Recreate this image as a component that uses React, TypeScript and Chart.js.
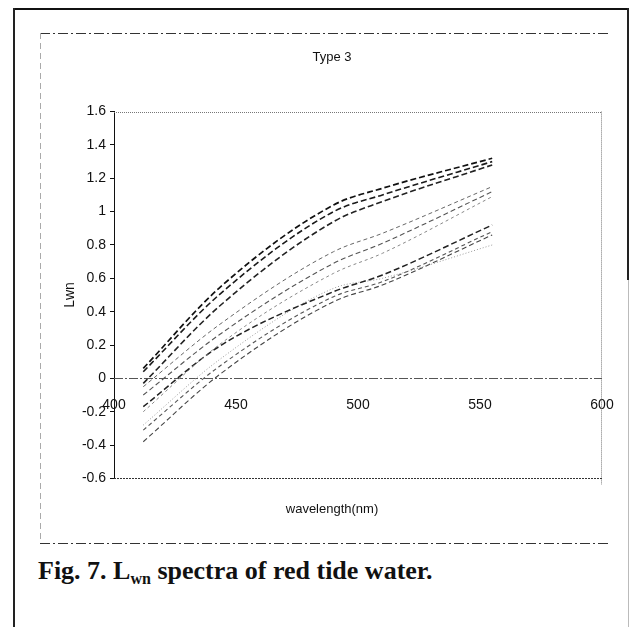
import React, { useEffect, useRef } from 'react';
import { Chart, registerables } from 'chart.js';

Chart.register(...registerables);

// wavelengths (nm) of the measured bands
const wavelengths = [412, 443, 490, 510, 555];

// axis tick values
const xTicks = [400, 450, 500, 550, 600];
const yTicks = [-0.6, -0.4, -0.2, 0, 0.2, 0.4, 0.6, 0.8, 1, 1.2, 1.4, 1.6];

// Lwn spectra (one array per station)
const st1 = [0.06, 0.54, 1.04, 1.14, 1.32];
const st2 = [0.04, 0.5, 1.0, 1.1, 1.3];
const st3 = [-0.03, 0.43, 0.94, 1.06, 1.28];
const st4 = [-0.05, 0.32, 0.76, 0.87, 1.15];
const st5 = [-0.1, 0.26, 0.69, 0.81, 1.12];
const st6 = [-0.2, 0.2, 0.63, 0.75, 1.09];
const st7 = [-0.17, 0.19, 0.52, 0.62, 0.92];
const st8 = [-0.28, 0.11, 0.54, 0.6, 0.8];
const st9 = [-0.31, 0.07, 0.49, 0.58, 0.88];
const st10 = [-0.38, 0.02, 0.46, 0.56, 0.86];

const seriesList = [st1, st2, st3, st4, st5, st6, st7, st8, st9, st10];

const lineStyles = [
  { color: '#111', width: 1.7, dash: [6, 3] },
  { color: '#1a1a1a', width: 1.6, dash: [6, 3] },
  { color: '#222', width: 1.6, dash: [6, 3] },
  { color: '#666', width: 1.0, dash: [4, 3] },
  { color: '#555', width: 1.1, dash: [5, 3] },
  { color: '#888', width: 1.0, dash: [3, 3] },
  { color: '#222', width: 1.5, dash: [6, 3] },
  { color: '#999', width: 1.0, dash: [1, 2] },
  { color: '#555', width: 1.1, dash: [4, 3] },
  { color: '#444', width: 1.1, dash: [5, 3] },
];

const FONT = "'Liberation Sans', Arial, Helvetica, sans-serif";

const framePlugin = {
  id: 'plotFrame',
  beforeDatasetsDraw(chart: any) {
    const { ctx, chartArea, scales } = chart;
    const { left, right, top, bottom } = chartArea;
    ctx.save();
    ctx.lineWidth = 1;
    ctx.setLineDash([1, 1]);
    ctx.strokeStyle = '#777';
    ctx.beginPath();
    ctx.moveTo(left, Math.round(top) + 0.5);
    ctx.lineTo(right, Math.round(top) + 0.5);
    ctx.moveTo(Math.round(right) - 0.5, top);
    ctx.lineTo(Math.round(right) - 0.5, bottom + 6);
    ctx.stroke();
    ctx.strokeStyle = '#333';
    ctx.setLineDash([2, 1]);
    ctx.beginPath();
    ctx.moveTo(left, Math.round(bottom) + 0.5);
    ctx.lineTo(right, Math.round(bottom) + 0.5);
    ctx.stroke();
    // zero line (x axis) drawn dash-dot
    const y0 = Math.round(scales.y.getPixelForValue(0)) + 0.5;
    ctx.strokeStyle = '#555';
    ctx.setLineDash([9, 2, 2, 2]);
    ctx.beginPath();
    ctx.moveTo(left, y0);
    ctx.lineTo(right, y0);
    ctx.stroke();
    ctx.restore();
  },
};

export default function App() {
  const canvasRef = useRef<HTMLCanvasElement | null>(null);

  useEffect(() => {
    if (!canvasRef.current) return;
    const chart = new Chart(canvasRef.current, {
      type: 'line',
      data: {
        datasets: seriesList.map((s, i) => ({
          label: 'station ' + (i + 1),
          data: s.map((v, j) => ({ x: wavelengths[j], y: v })),
          borderColor: lineStyles[i].color,
          borderWidth: lineStyles[i].width,
          borderDash: lineStyles[i].dash,
          pointRadius: 0,
          cubicInterpolationMode: 'monotone',
          fill: false,
        })),
      },
      options: {
        animation: false,
        responsive: false,
        layout: { padding: { left: 22, right: 18, top: 0, bottom: 0 } },
        plugins: {
          legend: { display: false },
          tooltip: { enabled: false },
          title: {
            display: true,
            text: 'Type 3',
            color: '#111',
            font: { family: FONT, size: 13, weight: 'normal' },
            padding: { top: 17, bottom: 46 },
          },
          subtitle: {
            display: true,
            position: 'bottom',
            text: 'wavelength(nm)',
            color: '#111',
            font: { family: FONT, size: 13, weight: 'normal' },
            padding: { top: 23, bottom: 28 },
          },
        },
        scales: {
          x: {
            type: 'linear',
            min: 400,
            max: 600,
            position: { y: 0 } as any,
            afterBuildTicks: (s: any) => {
              s.ticks = xTicks.map((v) => ({ value: v }));
            },
            afterFit: (s: any) => {
              s.paddingLeft = 0;
              s.paddingRight = 0;
            },
            grid: { display: true, drawOnChartArea: false, drawTicks: true, tickLength: 15, color: 'rgba(0,0,0,0)' },
            border: { display: false },
            ticks: {
              color: '#111',
              font: { family: FONT, size: 14 },
              padding: 3,
              maxRotation: 0,
              autoSkip: false,
            },
          },
          y: {
            type: 'linear',
            min: -0.6,
            max: 1.6,
            afterBuildTicks: (s: any) => {
              s.ticks = yTicks.map((v) => ({ value: v }));
            },
            afterFit: (s: any) => {
              s.width = 52;
              s.paddingTop = 0;
              s.paddingBottom = 0;
            },
            grid: { display: true, drawOnChartArea: false, drawTicks: true, tickLength: 4, color: '#111' },
            border: { display: true, color: '#111', width: 1 },
            ticks: {
              color: '#111',
              font: { family: FONT, size: 14 },
              padding: 4,
              autoSkip: false,
              callback: (v: any) => String(parseFloat(Number(v).toFixed(1))),
            },
            title: {
              display: true,
              text: 'Lwn',
              color: '#111',
              font: { family: FONT, size: 14 },
              padding: { top: 0, bottom: 0 },
            },
          },
        },
      },
      plugins: [framePlugin],
    });
    return () => chart.destroy();
  }, []);

  const dashDot = 'repeating-linear-gradient(90deg, #333 0 10px, transparent 10px 13px, #333 13px 15px, transparent 15px 18px)';
  const dashV = 'repeating-linear-gradient(180deg, #aaa 0 6px, transparent 6px 10px)';

  return (
    <div style={{ position: 'fixed', left: 0, top: 0, width: 632, height: 627, background: '#fff', overflow: 'hidden' }}>
      {/* outer frame */}
      <div style={{ position: 'absolute', left: 13, top: 8, width: 616, height: 2, background: '#111' }} />
      <div style={{ position: 'absolute', left: 13, top: 8, width: 2, height: 619, background: '#222' }} />
      <div style={{ position: 'absolute', left: 627, top: 8, width: 2, height: 272, background: '#222' }} />
      <div style={{ position: 'absolute', left: 628, top: 280, width: 1, height: 347, background: '#bbb' }} />
      {/* inner chart box */}
      <div style={{ position: 'absolute', left: 40, top: 33, width: 568, height: 1, background: dashDot }} />
      <div style={{ position: 'absolute', left: 40, top: 543, width: 570, height: 1, background: dashDot }} />
      <div style={{ position: 'absolute', left: 40, top: 33, width: 1, height: 510, background: dashV }} />
      <canvas
        ref={canvasRef}
        width={580}
        height={512}
        style={{ position: 'absolute', left: 40, top: 33, width: 580, height: 512 }}
      />
      <div
        style={{
          position: 'absolute',
          left: 38,
          top: 556,
          fontFamily: "'Liberation Serif', 'Times New Roman', serif",
          fontWeight: 'bold',
          fontSize: 26,
          color: '#111',
          whiteSpace: 'nowrap',
          lineHeight: '30px',
        }}
      >
        Fig. 7. L<sub style={{ fontSize: 16, verticalAlign: 'baseline', position: 'relative', top: 5 }}>wn</sub> spectra of red tide water.
      </div>
    </div>
  );
}
